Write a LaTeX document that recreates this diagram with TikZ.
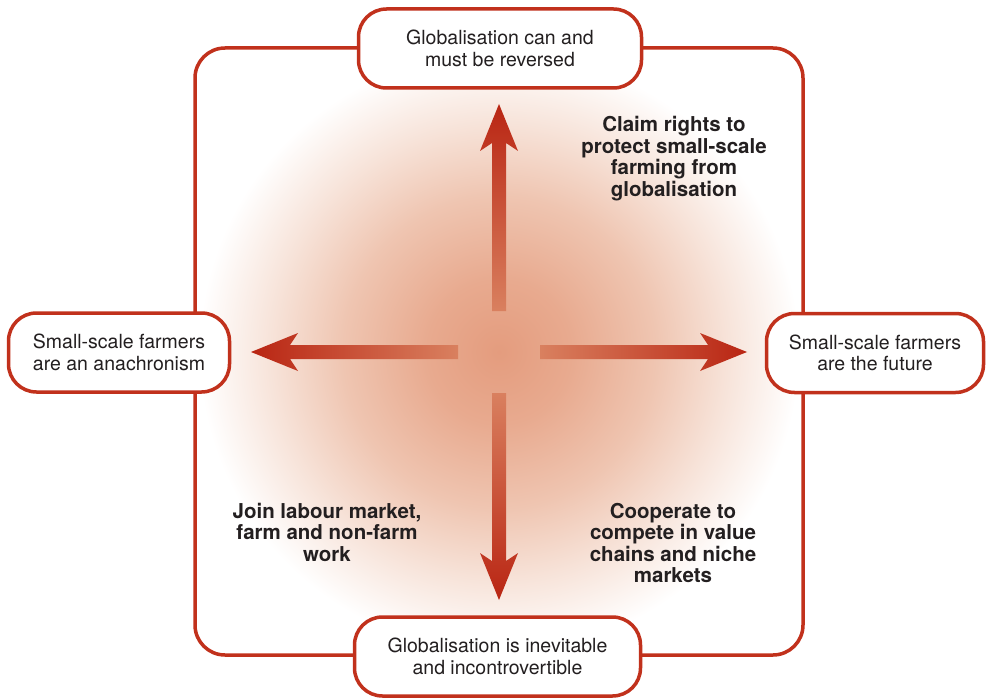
\documentclass[tikz,border=0pt]{standalone}
\usepackage{fontspec}
\setmainfont{TeX Gyre Heros}
\definecolor{framered}{HTML}{C1311C}
\definecolor{txt}{HTML}{231F20}
\definecolor{arrdark}{HTML}{B92513}
\definecolor{arrlight}{HTML}{D9805F}
\definecolor{glowa}{HTML}{E49C7E}
\definecolor{glowb}{HTML}{E8AA8F}
\definecolor{glowc}{HTML}{EFC5B1}
\definecolor{glowd}{HTML}{F7E3D9}
\pgfdeclareradialshading{glow}{\pgfpoint{0bp}{0bp}}{color(0bp)=(glowa); color(6bp)=(glowb); color(13bp)=(glowc); color(19bp)=(glowd); color(25bp)=(white); color(50bp)=(white)}
\tikzset{
  box/.style={draw=framered, line width=3.5pt, fill=white, rounded corners=28pt,
    minimum height=79pt, align=center, text=txt, inner sep=0pt,
    font=\fontsize{19.5}{21.5}\selectfont},
  lab/.style={align=center, text=txt, inner sep=0pt,
    font=\bfseries\fontsize{20.5}{21.5}\selectfont},
  framestyle/.style={draw=framered, line width=3.5pt, rounded corners=30pt}
}
\begin{document}
\begin{tikzpicture}[x=1pt,y=-1pt]
\useasboundingbox (0,0) rectangle (988,698);
\coordinate (C) at (499,352);
% glow
\shade[shading=glow] (C) circle (300pt);
% frame
\draw[framestyle] (195,48) rectangle (803,655);
% arrows
\begin{scope}[shift={(C)}]
  \shade[left color=arrlight, right color=arrdark]
    (41,-7) -- (209,-7) -- (201,-19) -- (248,0) -- (201,19) -- (209,7) -- (41,7) -- cycle;
  \shade[right color=arrlight, left color=arrdark]
    (-41,-7) -- (-209,-7) -- (-201,-19) -- (-248,0) -- (-201,19) -- (-209,7) -- (-41,7) -- cycle;
  \shade[bottom color=arrlight, top color=arrdark]
    (-7,-41) -- (-7,-209) -- (-19,-201) -- (0,-248) -- (19,-201) -- (7,-209) -- (7,-41) -- cycle;
  \shade[top color=arrlight, bottom color=arrdark]
    (-7,41) -- (-7,209) -- (-19,201) -- (0,248) -- (19,201) -- (7,209) -- (7,41) -- cycle;
\end{scope}
% boxes
\node[box, minimum width=283pt] (top) at (500,48.5) {Globalisation can and\\must be reversed};
\node[box, minimum width=286pt] (bot) at (497.5,656.5) {Globalisation is inevitable\\and incontrovertible};
\node[box, minimum width=221pt] (left) at (119,352.5) {Small-scale farmers\\are an anachronism};
\node[box, minimum width=217pt] (right) at (875,353) {Small-scale farmers\\are the future};
% labels
\node[lab] (ur) at (674,158.5) {Claim rights to\\protect small-scale\\farming from\\globalisation};
\node[lab] (ll) at (327,532) {Join labour market,\\farm and non-farm\\work};
\node[lab] (lr) at (673,543) {Cooperate to\\compete in value\\chains and niche\\markets};
\end{tikzpicture}
\end{document}
